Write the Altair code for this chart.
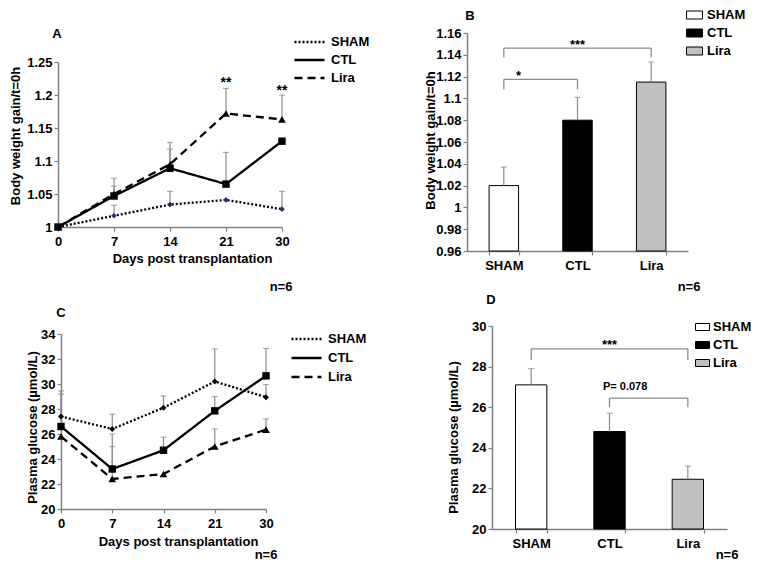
import altair as alt
import pandas as pd

FONT = "Liberation Sans"
GRAY = "#8c8c8c"
AXIS_GRAY = "#808080"
W, H = 743, 554

series = ["SHAM", "CTL", "Lira"]
days = ["0", "7", "14", "21", "30"]

# ---------------- Panel A: body weight gain (line) ----------------
a_sham = [1.0, 1.017, 1.034, 1.041, 1.027]
a_ctl = [1.0, 1.047, 1.089, 1.065, 1.130]
a_lira = [1.0, 1.050, 1.095, 1.172, 1.163]
a_sham_err = [None, 1.033, 1.054, None, 1.054]
a_ctl_err = [None, 1.062, 1.118, 1.113, None]
a_lira_err = [None, 1.074, 1.128, 1.210, 1.200]
a_yticks = [1.0, 1.05, 1.1, 1.15, 1.2, 1.25]
a_star_days = ["21", "30"]
a_star_y = [1.2227, 1.2106]
a_star_text = ["**", "**"]

# ---------------- Panel B: body weight gain (bars) ----------------
groups = ["SHAM", "CTL", "Lira"]
b_mean = [1.020, 1.080, 1.115]
b_err = [1.037, 1.101, 1.1335]
b_yticks = [0.96, 0.98, 1.0, 1.02, 1.04, 1.06, 1.08, 1.1, 1.12, 1.14, 1.16]
b_br_from = ["SHAM", "SHAM"]
b_br_to = ["CTL", "Lira"]
b_br_level = [1.1175, 1.1461]
b_br_low = [1.1083, 1.1378]

# ---------------- Panel C: plasma glucose (line) ----------------
c_sham = [27.4, 26.4, 28.1, 30.2, 28.95]
c_ctl = [26.6, 23.2, 24.7, 27.85, 30.65]
c_lira = [25.8, 22.4, 22.8, 25.0, 26.35]
c_sham_err = [29.45, 27.6, 29.05, 32.8, 29.95]
c_ctl_err = [29.2, 26.0, 25.75, 29.0, 32.85]
c_lira_err = [None, 25.0, None, 26.4, 27.2]
c_yticks = [20, 22, 24, 26, 28, 30, 32, 34]

# ---------------- Panel D: plasma glucose (bars) ----------------
d_mean = [27.1, 24.8, 22.45]
d_err = [27.9, 25.7, 23.1]
d_yticks = [20, 22, 24, 26, 28, 30]
d_br_from = ["SHAM", "CTL"]
d_br_to = ["Lira", "Lira"]
d_br_level = [28.87, 26.45]
d_br_low = [28.33, 26.0]


def long_table(vals, errs):
    rows = []
    for s, vl, el in zip(series, vals, errs):
        for d, v, e in zip(days, vl, el):
            rows.append({"day": d, "series": s, "value": v, "err": e})
    return pd.DataFrame(rows)


def bar_table(means, errs):
    return pd.DataFrame({"group": groups, "mean": means, "err": errs})


def bracket_tables(f, t, lvl, low):
    horiz = pd.DataFrame({"g1": f, "g2": t, "lvl": lvl})
    ends = pd.DataFrame({"g": list(f) + list(t), "top": list(lvl) * 2, "low": list(low) * 2})
    return horiz, ends


def axis(**kw):
    base = dict(grid=False, labelFont=FONT, labelFontSize=13, labelFontWeight="bold",
                labelColor="black", domainColor=AXIS_GRAY, domainWidth=1.5,
                tickColor=AXIS_GRAY, tickSize=4, tickWidth=1.2, labelPadding=2,
                titleFont=FONT, titleFontSize=13, titleFontWeight="bold", titleColor="black")
    base.update(kw)
    return alt.Axis(**base)


def legend(x, y, rowpad, **kw):
    return alt.Legend(orient="none", legendX=x, legendY=y, title=None, clipHeight=14,
                      rowPadding=rowpad, labelFont=FONT, labelFontSize=13,
                      labelFontWeight="bold", labelColor="black", padding=0, **kw)


one = pd.DataFrame({"k": [0]})


def label(txt, x, y, size=13, baseline="middle", align="center"):
    return alt.Chart(one).mark_text(font=FONT, fontSize=size, fontWeight="bold", color="black",
                                    baseline=baseline, align=align).encode(
        x=alt.value(x), y=alt.value(y), text=alt.value(txt))


def line_axes(xr, yd, yr, yticks, xaxis_y, yaxis_x, xtitle_pos, ytitle_pos):
    def X():
        return alt.X("day:O", sort=days,
                     scale=alt.Scale(type="point", domain=days, range=xr, padding=0),
                     axis=axis(orient="bottom", offset=xaxis_y - H, labelAngle=0, labelPadding=4,
                               title="Days post transplantation", titleX=xtitle_pos[0],
                               titleY=xtitle_pos[1], titleBaseline="middle", titleAlign="center"))

    def Y(field, title):
        return alt.Y(f"{field}:Q",
                     scale=alt.Scale(domain=yd, range=yr, zero=False, nice=False),
                     axis=axis(orient="left", offset=-yaxis_x, values=yticks, format=".2~f",
                               title=title, titleX=ytitle_pos[0], titleY=ytitle_pos[1],
                               titleBaseline="middle", titleAlign="center", titleAngle=270))
    return X, Y


def build_line(df, X, Y, ytitle, leg_pos, leg_rowpad, sham_color, sham_size):
    errdf = df.dropna(subset=["err"])
    rules = alt.Chart(errdf).mark_rule(color=GRAY, strokeWidth=1.2).encode(
        x=X(), y=Y("value", ytitle), y2="err:Q")
    caps = alt.Chart(errdf).mark_tick(color=GRAY, size=6, thickness=1.2).encode(
        x=X(), y=Y("err", ytitle))
    lines = alt.Chart(df).mark_line(color="black", strokeWidth=2.3).encode(
        x=X(), y=Y("value", ytitle), detail="series:N",
        strokeDash=alt.StrokeDash("series:N",
                                  scale=alt.Scale(domain=series, range=[[2, 2], [1, 0], [8, 5]]),
                                  legend=legend(leg_pos[0], leg_pos[1], leg_rowpad,
                                                symbolType="stroke", symbolSize=900,
                                                symbolStrokeWidth=2.3, symbolStrokeColor="black",
                                                labelOffset=5)))
    pts = []
    for s, shape, col, size in [("SHAM", "diamond", sham_color, sham_size),
                                ("CTL", "square", "black", 55),
                                ("Lira", "triangle-up", "black", 60)]:
        pts.append(alt.Chart(df).transform_filter(alt.datum.series == s).mark_point(
            shape=shape, filled=True, color=col, size=size, opacity=1).encode(
            x=X(), y=Y("value", ytitle)))
    return [rules, caps, lines] + pts


# ---- Panel A ----
dfA = long_table([a_sham, a_ctl, a_lira], [a_sham_err, a_ctl_err, a_lira_err])
XA, YA = line_axes([50, 274], [1, 1.25], [219, 54], a_yticks, 219, 50, (184, 31), (-43, 127.5))
layersA = build_line(dfA, XA, YA, "Body weight gain/t=0h", (285, 27), 4, "#1f3a60", 32)
starsA = alt.Chart(pd.DataFrame({"day": a_star_days, "sy": a_star_y, "t": a_star_text})).mark_text(
    font=FONT, fontSize=14, fontWeight="bold", color="black", baseline="alphabetic", dy=7).encode(
    x=XA(), y=YA("sy", "Body weight gain/t=0h"), text="t:N")
panelA = alt.layer(*layersA, starsA, label("A", 49, 26), label("n=6", 273, 279))

# ---- Panel C ----
dfC = long_table([c_sham, c_ctl, c_lira], [c_sham_err, c_ctl_err, c_lira_err])
XC, YC = line_axes([53, 258], [20, 34], [501, 326], c_yticks, 501, 53, (170, 32), (-29, 419))
layersC = build_line(dfC, XC, YC, "Plasma glucose (µmol/L)", (282, 324), 5, "black", 36)
panelC = alt.layer(*layersC, label("C", 53, 305), label("n=6", 258, 547))


# ---- Bar panels ----
def build_bar(df, xr, yd, yr, yticks, xaxis_y, yaxis_x, ytitle, ytitle_pos, leg_pos,
              leg_size, leg_offset, br, texts):
    def X(field="group", bp=None):
        kw = {} if bp is None else {"bandPosition": bp}
        return alt.X(f"{field}:N", sort=groups,
                     scale=alt.Scale(type="band", domain=groups, range=xr,
                                     paddingInner=0.6, paddingOuter=0.3),
                     axis=axis(orient="bottom", offset=xaxis_y - H, labelAngle=0, labelPadding=4,
                               tickBand="extent", title=None), **kw)

    def Y(field):
        return alt.Y(f"{field}:Q",
                     scale=alt.Scale(domain=yd, range=yr, zero=False, nice=False),
                     axis=axis(orient="left", offset=-yaxis_x, values=yticks, format=".2~f",
                               title=ytitle, titleX=ytitle_pos[0], titleY=ytitle_pos[1],
                               titleBaseline="middle", titleAlign="center", titleAngle=270))

    bars = alt.Chart(df).mark_bar(stroke="black", strokeWidth=1).encode(
        x=X(), y=Y("mean"), y2=alt.datum(yd[0]),
        fill=alt.Fill("group:N", scale=alt.Scale(domain=groups, range=["white", "black", "#c0c0c0"]),
                      legend=legend(leg_pos[0], leg_pos[1], 4,
                                    symbolType="M-1,-0.5H1V0.5H-1Z", symbolSize=leg_size,
                                    symbolStrokeColor="black", symbolStrokeWidth=1,
                                    labelOffset=leg_offset)))
    rules = alt.Chart(df).mark_rule(color=GRAY, strokeWidth=1.2).encode(
        x=X(), y=Y("mean"), y2="err:Q")
    caps = alt.Chart(df).mark_tick(color=GRAY, size=6, thickness=1.2).encode(x=X(), y=Y("err"))
    horiz, ends = br
    brh = alt.Chart(horiz).mark_rule(color=GRAY, strokeWidth=1.3).encode(
        x=X("g1"), x2="g2:N", y=Y("lvl"))
    bre = alt.Chart(ends).mark_rule(color=GRAY, strokeWidth=1.3).encode(
        x=X("g"), y=Y("top"), y2="low:Q")
    tl = []
    for t, g, bp, yv, size, base, dy in texts:
        tl.append(alt.Chart(pd.DataFrame({"g": [g], "ty": [yv], "t": [t]})).mark_text(
            font=FONT, fontSize=size, fontWeight="bold", color="black", baseline=base, dy=dy).encode(
            x=X("g", bp), y=Y("ty"), text="t:N"))
    return [bars, rules, caps, brh, bre] + tl


dfB = bar_table(b_mean, b_err)
layersB = build_bar(dfB, [459, 680], [0.96, 1.16], [243, 25], b_yticks, 243, 459,
                    "Body weight gain/t=0h", (-37, 132), (678, 0), 256, 4,
                    bracket_tables(b_br_from, b_br_to, b_br_level, b_br_low),
                    [("*", "SHAM", 1.0, 1.1236, 13, "alphabetic", 7),
                     ("***", "CTL", 0.5, 1.1518, 13, "alphabetic", 7)])
panelB = alt.layer(*layersB, label("B", 462, 2, baseline="top"), label("n=6", 681, 279))

dfD = bar_table(d_mean, d_err)
layersD = build_bar(dfD, [484, 719], [20, 30], [521, 318], d_yticks, 521, 484,
                    "Plasma glucose (µmol/L)", (-39, 429), (687, 312), 196, 3,
                    bracket_tables(d_br_from, d_br_to, d_br_level, d_br_low),
                    [("***", "CTL", 0.5, 29.23, 13, "alphabetic", 7),
                     ("P= 0.078", "CTL", 1.0, 26.98, 11, "middle", 0)])
panelD = alt.layer(*layersD, label("D", 483, 292), label("n=6", 719, 547))

chart = alt.layer(panelA, panelB, panelC, panelD).resolve_scale(
    x="independent", y="independent", strokeDash="independent", fill="independent"
).properties(
    width=W, height=H, padding=0, autosize=alt.AutoSizeParams(type="none")
).configure_view(stroke=None)

chart.save("out.html", embed_options={"renderer": "svg", "actions": False})
